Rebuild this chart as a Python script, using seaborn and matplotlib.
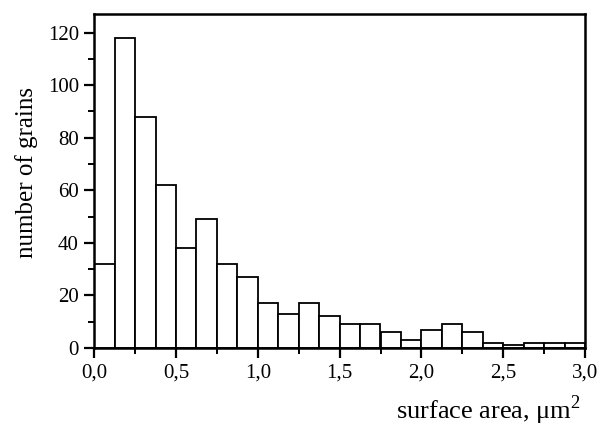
import pandas as pd
import seaborn as sns
import matplotlib.pyplot as plt
from matplotlib.ticker import MultipleLocator, FuncFormatter

# histogram of grain surface areas, bin width 0.125 um^2
bin_edges = [i * 0.125 for i in range(25)]
counts = [32, 118, 88, 62, 38, 49, 32, 27, 17, 13, 17, 12,
          9, 9, 6, 3, 7, 9, 6, 2, 1, 2, 2, 2]
centers = [(a + b) / 2 for a, b in zip(bin_edges[:-1], bin_edges[1:])]
df = pd.DataFrame({"area": centers, "n": counts})

sns.set_style("ticks", {"axes.edgecolor": "black", "xtick.color": "black",
                        "ytick.color": "black", "text.color": "black",
                        "axes.labelcolor": "black"})
plt.rcParams['font.family'] = ['Liberation Serif', 'DejaVu Serif']
plt.rcParams['mathtext.fontset'] = 'custom'
plt.rcParams['mathtext.rm'] = 'Liberation Serif'

fig = plt.figure(figsize=(6, 4.29), dpi=100)
ax = fig.add_axes([0.157, 0.189, 0.818, 0.778])

sns.histplot(data=df, x="area", weights="n", bins=bin_edges, ax=ax,
             color='white', edgecolor='black', linewidth=1.3, alpha=1)

ax.set_xlim(0, 3.0)
ax.set_ylim(0, 127)
ax.xaxis.set_major_locator(MultipleLocator(0.5))
ax.xaxis.set_minor_locator(MultipleLocator(0.25))
ax.yaxis.set_major_locator(MultipleLocator(20))
ax.yaxis.set_minor_locator(MultipleLocator(10))
ax.xaxis.set_major_formatter(FuncFormatter(lambda v, p: f"{v:.1f}".replace('.', ',')))

for s in ax.spines.values():
    s.set_linewidth(1.8)
    s.set_visible(True)
ax.tick_params(which='major', direction='out', length=7, width=1.6,
               labelsize=15, pad=4, colors='black')
ax.tick_params(which='minor', direction='out', length=4, width=1.4)
ax.tick_params(top=False, right=False, which='both')

ax.set_ylabel("number of grains", fontsize=18)
ax.set_xlabel("surface area, μm$^2$", fontsize=19)
ax.yaxis.set_label_coords(-0.114, 0.525)
ax.xaxis.set_label_coords(0.804, -0.135)

fig.savefig("out.png", dpi=100)
